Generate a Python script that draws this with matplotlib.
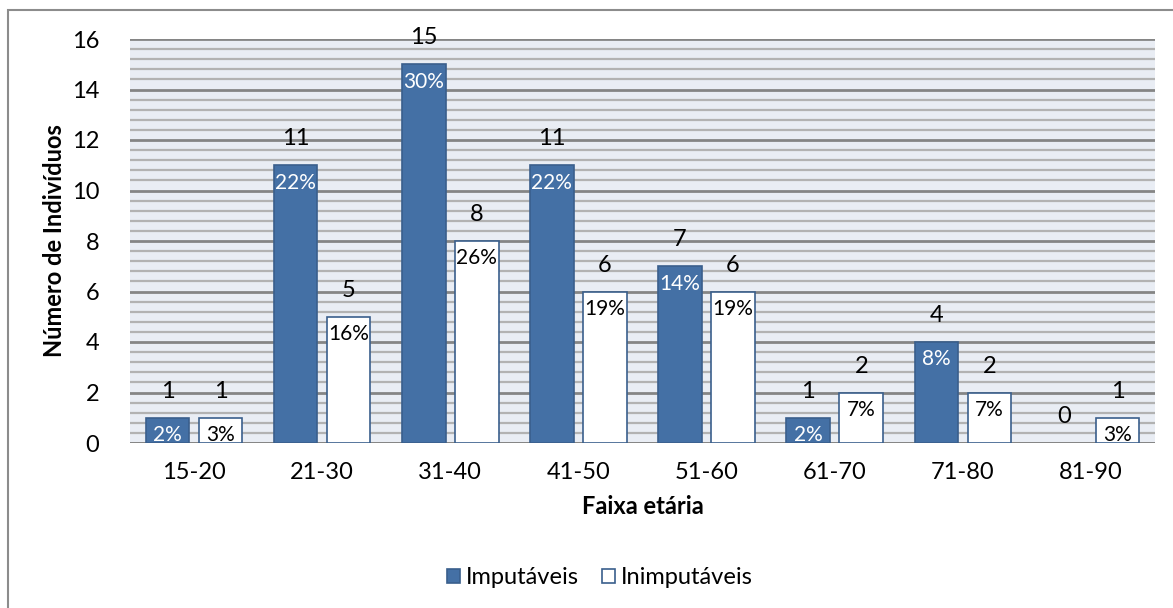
import matplotlib.pyplot as plt
import numpy as np
from matplotlib.patches import Rectangle

plt.rcParams['font.family'] = ['Lato', 'DejaVu Sans']

faixas = ["15-20", "21-30", "31-40", "41-50", "51-60", "61-70", "71-80", "81-90"]
imputaveis = [1, 11, 15, 11, 7, 1, 4, 0]
inimputaveis = [1, 5, 8, 6, 6, 2, 2, 1]
pct_imputaveis = ["2%", "22%", "30%", "22%", "14%", "2%", "8%", ""]
pct_inimputaveis = ["3%", "16%", "26%", "19%", "19%", "7%", "7%", "3%"]

azul = "#4470A5"
borda = "#3A5F8C"
fundo = "#E9EDF4"
fs = 17

fig = plt.figure(figsize=(11.73, 6.08), dpi=100)
W, H = 1173, 608
# plot area in pixels: x 130..1155, y 39..443
ax = fig.add_axes([130 / W, 1 - 443 / H, 1025 / W, 404 / H])
ax.set_facecolor(fundo)

# outer chart frame
fig.patches.append(Rectangle((8 / W, -0.05), 1.1, 1 - 10 / H + 0.05,
                             transform=fig.transFigure, fill=False,
                             edgecolor="#8C8C8C", linewidth=1.5))

x = np.arange(len(faixas))
w = 0.34
off = 0.207

b1 = ax.bar(x - off, imputaveis, w, color=azul, edgecolor=borda, linewidth=1.2,
            label="Imputáveis", zorder=3)
b2 = ax.bar(x + off, inimputaveis, w, color="white", edgecolor=borda, linewidth=1.2,
            label="Inimputáveis", zorder=3)
# empty bars draw no outline
for b in list(b1) + list(b2):
    if b.get_height() == 0:
        b.set_linewidth(0)

ax.set_xlim(-0.5, len(faixas) - 0.5)
ax.set_ylim(0, 16)
ax.set_yticks(np.arange(0, 17, 2))
ax.set_yticks(np.arange(0, 16.01, 0.4), minor=True)
ax.grid(axis="y", which="minor", color="#B2B2B2", linewidth=1.6, zorder=1)
ax.grid(axis="y", which="major", color="#858585", linewidth=2.0, zorder=1)
ax.set_axisbelow(True)
for s in ax.spines.values():
    s.set_visible(False)
ax.axhline(0, color="#858585", linewidth=2.0, zorder=2)

ax.tick_params(axis="both", which="both", length=0)
ax.tick_params(axis="y", labelsize=fs, pad=22)
ax.tick_params(axis="x", labelsize=fs, pad=14)
ax.set_xticks(x)
ax.set_xticklabels(faixas)

ax.set_ylabel("Número de Indivíduos", fontsize=fs, fontweight="bold", labelpad=4)
ax.set_xlabel("Faixa etária", fontsize=fs, fontweight="bold", labelpad=8)

for bars, vals, pcts, cor in [(b1, imputaveis, pct_imputaveis, "white"),
                               (b2, inimputaveis, pct_inimputaveis, "black")]:
    for b, v, p in zip(bars, vals, pcts):
        cx = b.get_x() + b.get_width() / 2
        ax.annotate(str(v), (cx, v), xytext=(0, 19), textcoords="offset points",
                    ha="center", va="center", fontsize=fs, zorder=5,
                    annotation_clip=False)
        if p:
            ax.annotate(p, (cx, v), xytext=(0, -12.5), textcoords="offset points",
                        ha="center", va="center", fontsize=15, color=cor, zorder=5)

fig.legend(handles=[b1, b2], loc="center", bbox_to_anchor=(600 / W, 1 - 578 / H),
           ncol=2, frameon=False, fontsize=fs, handlelength=0.55, handleheight=0.55,
           handletextpad=0.25, columnspacing=1.0)

fig.savefig("out.png", dpi=100)
